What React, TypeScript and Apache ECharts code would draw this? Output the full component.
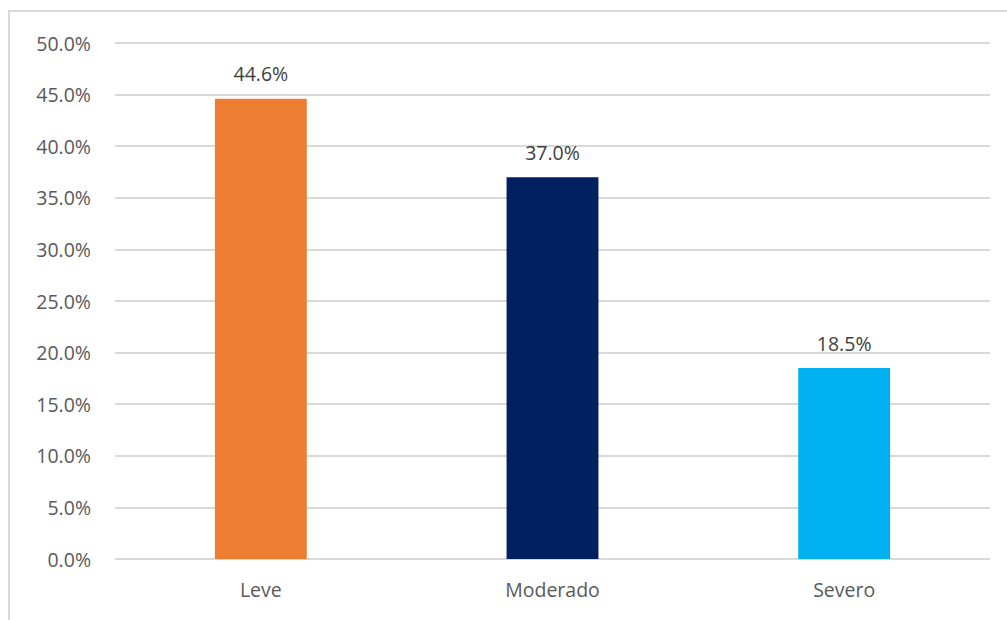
import React, { useEffect, useRef } from "react";
import * as echarts from "echarts";

const categories = ["Leve", "Moderado", "Severo"];
const values = [44.6, 37.0, 18.5];
const colors = ["#ED7D31", "#002060", "#00B0F0"];
const yTicks = { min: 0, max: 50, interval: 5 };

export default function App() {
  const ref = useRef<HTMLDivElement>(null);
  useEffect(() => {
    const chart = echarts.init(ref.current!, null, { renderer: "svg" });
    const font = "'Open Sans', 'Noto Sans', sans-serif";
    chart.setOption({
      animation: false,
      backgroundColor: "#ffffff",
      graphic: [
        {
          type: "rect",
          shape: { x: 9, y: 11, width: 1100, height: 700 },
          style: { fill: "none", stroke: "#d9d9d9", lineWidth: 2 },
          silent: true,
        },
      ],
      grid: { left: 115, right: 17, top: 43, bottom: 61, containLabel: false },
      xAxis: {
        type: "category",
        data: categories,
        axisLine: { show: false },
        axisTick: { show: false },
        axisLabel: { color: "#595959", fontSize: 19.5, fontFamily: font, margin: 20 },
      },
      yAxis: {
        type: "value",
        min: yTicks.min,
        max: yTicks.max,
        interval: yTicks.interval,
        axisLine: { show: false },
        axisTick: { show: false },
        splitLine: { lineStyle: { color: "#d9d9d9", width: 2 } },
        axisLabel: {
          color: "#595959",
          fontSize: 19.5,
          fontFamily: font,
          margin: 24,
          formatter: (v: number) => v.toFixed(1) + "%",
        },
      },
      series: [
        {
          type: "bar",
          barWidth: "31.5%",
          data: values.map((v, i) => ({
            value: v,
            itemStyle: { color: colors[i] },
          })),
          label: {
            show: true,
            position: "top",
            distance: 15,
            color: "#404040",
            fontSize: 19.5,
            fontFamily: font,
            formatter: (p: any) => Number(p.value).toFixed(1) + "%",
          },
        },
      ],
    });
    return () => chart.dispose();
  }, []);
  return (
    <div
      ref={ref}
      style={{ position: "fixed", left: 0, top: 0, width: 1007, height: 620 }}
    />
  );
}
